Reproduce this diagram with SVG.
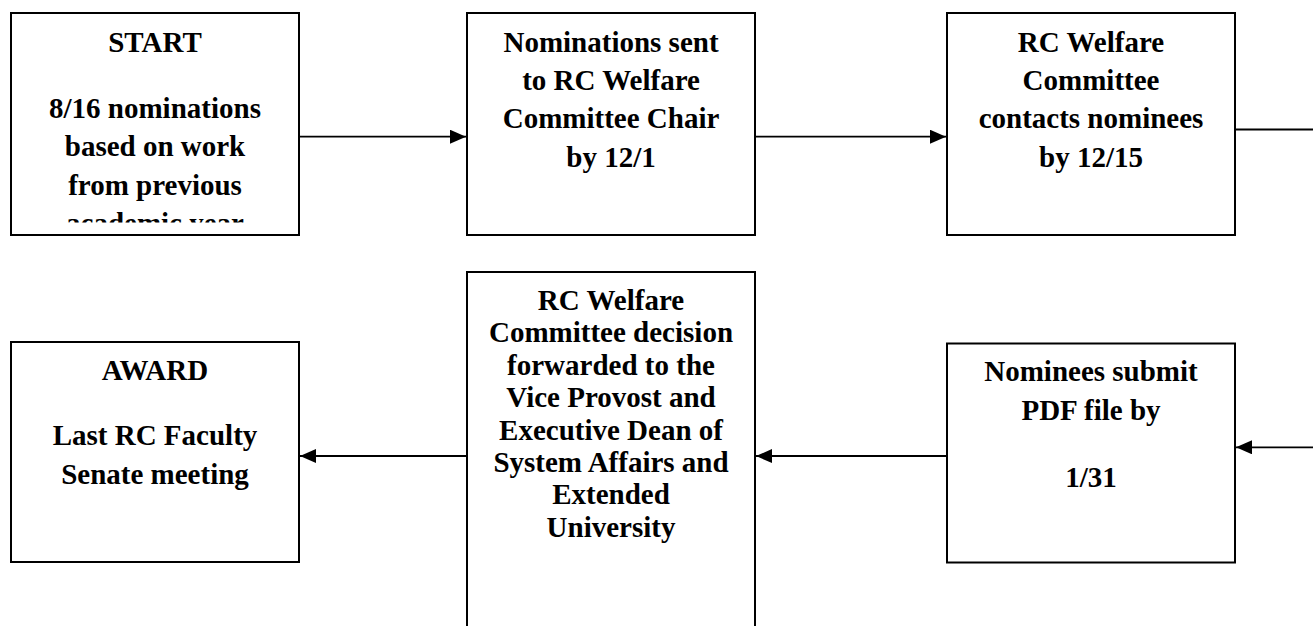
<svg xmlns="http://www.w3.org/2000/svg" width="1313" height="626" viewBox="0 0 1313 626">
  <style>
    .box { fill: #ffffff; stroke: #000000; stroke-width: 2; }
    .t { font-family: "Liberation Serif", "Times New Roman", serif; font-weight: bold; font-size: 29px; fill: #000000; text-anchor: middle; }
    .c { fill: none; stroke: #000000; stroke-width: 1.8; }
  </style>
  <defs>
    <marker id="arr" markerUnits="userSpaceOnUse" markerWidth="16" markerHeight="14" refX="16" refY="7" orient="auto">
      <path d="M0,0 L16,7 L0,14 z" fill="#000000"/>
    </marker>
    <clipPath id="clip1">
      <rect x="12" y="14" width="286" height="208.5"/>
    </clipPath>
  </defs>
  <rect width="1313" height="626" fill="#ffffff"/>

  <g id="connectors">
    <line class="c" x1="300" y1="136.7" x2="466" y2="136.7" marker-end="url(#arr)"/>
    <line class="c" x1="756" y1="136.7" x2="946" y2="136.7" marker-end="url(#arr)"/>
    <line class="c" x1="1236" y1="129.5" x2="1313" y2="129.5"/>
    <line class="c" x1="1313" y1="447.3" x2="1236" y2="447.3" marker-end="url(#arr)"/>
    <line class="c" x1="946" y1="456" x2="756" y2="456" marker-end="url(#arr)"/>
    <line class="c" x1="466" y1="456" x2="300" y2="456" marker-end="url(#arr)"/>
  </g>

  <g id="start">
    <rect class="box" x="11" y="13" width="288" height="222"/>
    <g clip-path="url(#clip1)">
      <text class="t" x="155" y="51.5">START</text>
      <text class="t" x="155" y="118">8/16 nominations</text>
      <text class="t" x="155" y="156.4">based on work</text>
      <text class="t" x="155" y="194.8">from previous</text>
      <text class="t" x="155" y="233.2">academic year</text>
    </g>
  </g>

  <g id="nominations-sent">
    <rect class="box" x="467" y="13" width="288" height="222"/>
    <text class="t" x="611" y="51.5">Nominations sent</text>
    <text class="t" x="611" y="89.9">to RC Welfare</text>
    <text class="t" x="611" y="128.3">Committee Chair</text>
    <text class="t" x="611" y="166.7">by 12/1</text>
  </g>

  <g id="contacts-nominees">
    <rect class="box" x="947" y="13" width="288" height="222"/>
    <text class="t" x="1091" y="51.5">RC Welfare</text>
    <text class="t" x="1091" y="89.9">Committee</text>
    <text class="t" x="1091" y="128.3">contacts nominees</text>
    <text class="t" x="1091" y="166.7">by 12/15</text>
  </g>

  <g id="award">
    <rect class="box" x="11" y="342" width="288" height="220"/>
    <text class="t" x="155" y="380">AWARD</text>
    <text class="t" x="155" y="445">Last RC Faculty</text>
    <text class="t" x="155" y="484">Senate meeting</text>
  </g>

  <g id="decision-forwarded">
    <rect class="box" x="467" y="272" width="288" height="400"/>
    <text class="t" x="611" y="310">RC Welfare</text>
    <text class="t" x="611" y="342.4">Committee decision</text>
    <text class="t" x="611" y="374.8">forwarded to the</text>
    <text class="t" x="611" y="407.2">Vice Provost and</text>
    <text class="t" x="611" y="439.6">Executive Dean of</text>
    <text class="t" x="611" y="472">System Affairs and</text>
    <text class="t" x="611" y="504.4">Extended</text>
    <text class="t" x="611" y="536.8">University</text>
  </g>

  <g id="nominees-submit">
    <rect class="box" x="947" y="343.5" width="288" height="219"/>
    <text class="t" x="1091" y="380.7">Nominees submit</text>
    <text class="t" x="1091" y="420">PDF file by</text>
    <text class="t" x="1091" y="486.7">1/31</text>
  </g>
</svg>
